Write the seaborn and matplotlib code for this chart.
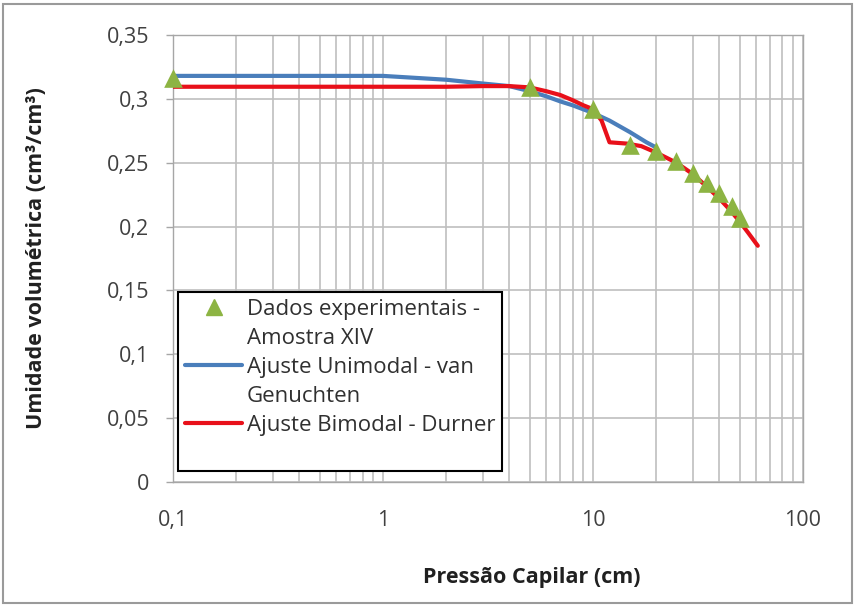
import matplotlib
matplotlib.use("Agg")
import matplotlib.pyplot as plt
import matplotlib.ticker as mticker
from matplotlib.lines import Line2D
from matplotlib.patches import Rectangle
import seaborn as sns
import pandas as pd

# Experimental points
p_exp = [0.1, 5, 10, 15, 20, 25, 30, 35, 40, 46, 50]
u_exp = [0.316, 0.309, 0.292, 0.264, 0.259, 0.251, 0.242, 0.234, 0.226, 0.216, 0.207]

# van Genuchten (unimodal) fit
p_vg = [0.1, 0.5, 1, 2, 3, 4, 5, 6, 7, 8, 10, 12, 15, 18, 20]
u_vg = [0.318, 0.318, 0.318, 0.315, 0.312, 0.310, 0.306, 0.302, 0.298, 0.295, 0.289, 0.283, 0.274, 0.266, 0.262]

# Durner (bimodal) fit
p_du = [0.1, 1, 2, 3, 4, 5, 6, 7, 8, 9, 10, 11, 12, 14.5, 17, 20, 25, 30, 35, 40, 45, 50, 55, 61]
u_du = [0.3095, 0.3095, 0.3095, 0.310, 0.310, 0.309, 0.306, 0.303, 0.299, 0.295, 0.292, 0.283, 0.266, 0.265, 0.263, 0.258,
        0.250, 0.241, 0.231, 0.222, 0.213, 0.204, 0.195, 0.185]

df_exp = pd.DataFrame({"p": p_exp, "u": u_exp})
df_vg = pd.DataFrame({"p": p_vg, "u": u_vg})
df_du = pd.DataFrame({"p": p_du, "u": u_du})

sns.set_theme(style="white")
plt.rcParams['font.family'] = ['Open Sans', 'DejaVu Sans']

green = "#8DB443"
blue = "#4A7EBB"
red = "#E8101A"
grid_c = "#BFBFBF"

fig = plt.figure(figsize=[8.55, 6.07], dpi=100)
ax = fig.add_axes([0.2023, 0.2059, 0.7367, 0.7364])

sns.lineplot(data=df_vg, x="p", y="u", color=blue, linewidth=3, ax=ax, zorder=3)
sns.lineplot(data=df_du, x="p", y="u", color=red, linewidth=3, ax=ax, zorder=4)
sns.scatterplot(data=df_exp, x="p", y="u", marker="^", s=180, color=green, edgecolor=green,
                linewidth=0, ax=ax, zorder=5, clip_on=False)

ax.set_xscale("log")
ax.set_xlim(0.1, 100)
ax.set_ylim(0, 0.35)
ax.set_yticks([0, 0.05, 0.1, 0.15, 0.2, 0.25, 0.3, 0.35])
ax.yaxis.set_major_formatter(mticker.FuncFormatter(lambda v, p: ("%g" % round(v, 2)).replace(".", ",")))
ax.xaxis.set_major_locator(mticker.FixedLocator([0.1, 1, 10, 100]))
ax.xaxis.set_major_formatter(mticker.FixedFormatter(["0,1", "1", "10", "100"]))
ax.xaxis.set_minor_locator(mticker.LogLocator(base=10, subs=range(2, 10)))
ax.xaxis.set_minor_formatter(mticker.NullFormatter())

ax.grid(True, which="major", axis="both", color=grid_c, linewidth=1.2)
ax.grid(True, which="minor", axis="x", color=grid_c, linewidth=1.2)
ax.set_axisbelow(True)
for s in ax.spines.values():
    s.set_color("#A6A6A6")
    s.set_linewidth(1)

ax.tick_params(axis="both", which="major", labelsize=15.5, colors="#404040", length=5, width=1,
               direction="out", left=True, bottom=False, pad=15)
ax.tick_params(axis="both", which="minor", length=0)
ax.tick_params(axis="y", colors="#A6A6A6", labelcolor="#404040", pad=12)

ax.set_xlabel("Pressão Capilar (cm)", fontsize=15.5, fontweight="bold", color="#202020")
ax.set_ylabel("Umidade volumétrica (cm³/cm³)", fontsize=15.5, fontweight="bold", color="#202020")
ax.xaxis.set_label_coords(0.57, -0.19)
ax.yaxis.set_label_coords(-0.2, 0.5)

# Legend: one row per text line, handles on the first line of each entry
blank = Line2D([], [], linestyle="none")
handles = [Line2D([], [], marker="^", linestyle="none", color=green, markersize=11),
           blank,
           Line2D([], [], color=blue, linewidth=3),
           blank,
           Line2D([], [], color=red, linewidth=3),
           blank]
labels = ["Dados experimentais -", "Amostra XIV", "Ajuste Unimodal - van", "Genuchten",
          "Ajuste Bimodal - Durner", " "]
leg = ax.legend(handles, labels, loc="upper left", bbox_to_anchor=(178 / 855, 1 - 292 / 607),
                bbox_transform=fig.transFigure, fontsize=16,
                frameon=True, fancybox=False, framealpha=1, edgecolor="black", borderpad=0.3,
                labelspacing=0.36, handlelength=2.6, handletextpad=0.2, borderaxespad=0)
leg.get_frame().set_linewidth(1.5)
for t in leg.get_texts():
    t.set_color("#303030")

fig.patches.append(Rectangle((0.004, 0.006), 0.992, 0.988, transform=fig.transFigure,
                             fill=False, edgecolor="#9A9A9A", linewidth=1.5))

fig.savefig("out.png", dpi=100)
